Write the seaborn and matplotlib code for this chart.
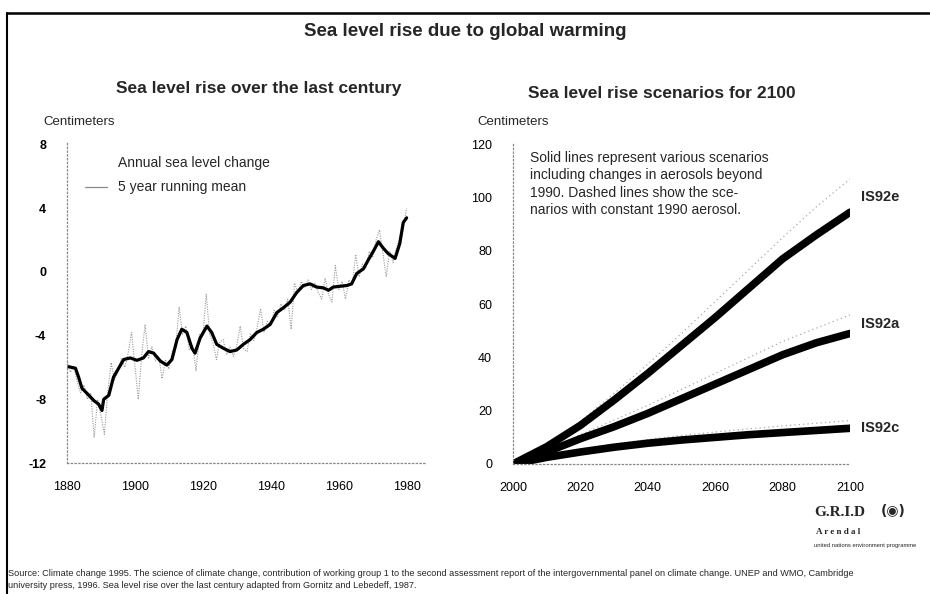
import numpy as np
import pandas as pd
import matplotlib
matplotlib.use("Agg")
import matplotlib.pyplot as plt
from matplotlib.lines import Line2D
import seaborn as sns

# --- left chart: sea level over the last century (cm) ---
annual_years = list(range(1880, 1981))
annual_cm = [-5.6, -6.3, -5.9, -6.9, -7.6, -7.1, -8.0, -7.6, -10.4, -8.0,
             -9.0, -10.2, -7.5, -5.7, -6.8, -6.3, -5.4, -6.0, -5.1, -3.8,
             -5.9, -8.0, -5.2, -3.3, -5.4, -4.7, -5.6, -5.3, -6.7, -5.5,
             -6.1, -5.0, -4.8, -2.2, -3.9, -3.4, -4.9, -4.6, -6.2, -3.9,
             -4.0, -1.4, -3.9, -4.5, -5.5, -4.4, -4.25, -5.2, -4.7, -5.3,
             -4.6, -3.4, -4.8, -5.0, -3.9, -4.3, -3.5, -2.3, -3.8, -3.1,
             -3.4, -2.4, -2.8, -2.0, -2.4, -1.7, -3.6, -0.7, -1.3, -0.6,
             -1.0, -0.5, -1.1, -0.7, -1.3, -1.7, -0.4, -1.4, -1.9, 0.4,
             -1.1, -0.6, -1.7, -0.5, -0.8, 1.1, -0.3, 0.5, 0.3, 1.3,
             0.9, 2.0, 2.65, 1.2, -0.3, 1.3, 0.6, 1.5, 2.2, 2.7,
             4.0]
mean_years = [1880.5, 1882.5, 1883.4, 1884.4, 1886, 1888, 1889.3, 1890.3, 1890.8,
              1892.3, 1893.7, 1895.2, 1896.7, 1898.6, 1900.6, 1902.5, 1904, 1905.5,
              1907.5, 1909.4, 1910.9, 1912.4, 1913.8, 1915.3, 1916.8, 1917.7, 1919.2,
              1921.2, 1922.6, 1924.1, 1926.1, 1928, 1930, 1931.9, 1933.9, 1935.9,
              1937.8, 1939.8, 1941.8, 1943.7, 1945.7, 1947.6, 1949.6, 1951.6, 1953.5,
              1955.5, 1957, 1958.4, 1960.4, 1962.4, 1963.8, 1965.3, 1967.3, 1968.7,
              1970.2, 1971.7, 1973.1, 1974.6, 1976.6, 1978, 1979, 1980]
mean_cm = [-5.95, -6.05, -6.6, -7.3, -7.65, -8.1, -8.3, -8.7, -8.0,
           -7.75, -6.6, -6.05, -5.5, -5.4, -5.55, -5.4, -5.0, -5.1,
           -5.6, -5.85, -5.5, -4.25, -3.6, -3.8, -4.8, -5.1, -4.15,
           -3.4, -3.8, -4.55, -4.8, -5.0, -4.9, -4.55, -4.25, -3.8,
           -3.6, -3.3, -2.55, -2.25, -1.9, -1.3, -0.85, -0.75, -0.95,
           -1.0, -1.15, -0.95, -0.9, -0.85, -0.75, -0.1, 0.2, 0.75,
           1.3, 1.9, 1.5, 1.15, 0.85, 1.8, 3.1, 3.4]
left_yticks = [-12, -8, -4, 0, 4, 8]
left_xticks = [1880, 1900, 1920, 1940, 1960, 1980]

# --- right chart: scenarios to 2100 (cm) ---
scen_years = [2000, 2010, 2020, 2030, 2040, 2050, 2060, 2070, 2080, 2090, 2100]
is92e = [0, 6.5, 14.5, 24, 34, 44.5, 55, 66, 77, 86, 94.5]
is92a = [0, 4.5, 9.5, 14, 19, 24.5, 30, 35.5, 41, 45.5, 49]
is92c = [0, 2.5, 4.5, 6.3, 7.8, 9.0, 10.0, 11.0, 11.8, 12.6, 13.4]
is92e_const = [0, 7, 16, 26.5, 37.5, 49, 61, 73, 85, 96.5, 107]
is92a_const = [0, 5, 11, 16.5, 22, 28, 34, 40, 46, 51, 56]
is92c_const = [0, 3, 5.5, 7.5, 9.2, 10.7, 12, 13.2, 14.3, 15.3, 16.3]
right_yticks = [0, 20, 40, 60, 80, 100, 120]
right_xticks = [2000, 2020, 2040, 2060, 2080, 2100]

sns.set_theme(style="white")
plt.rcParams['font.family'] = ['Liberation Sans', 'DejaVu Sans']
plt.rcParams['axes.unicode_minus'] = False

W, H = 930, 594
fig = plt.figure(figsize=(9.3, 5.94), dpi=100)


def px(x, y):
    return x / W, 1 - y / H


def style_axis(ax):
    for s in ['top', 'right']:
        ax.spines[s].set_visible(False)
    for s in ['left', 'bottom']:
        ax.spines[s].set_linestyle((0, (1, 2)))
        ax.spines[s].set_color('#888888')
        ax.spines[s].set_linewidth(0.9)
    ax.tick_params(axis='y', length=3, width=0.7, color='#888888', pad=12,
                   labelsize=9, labelcolor='black')
    ax.tick_params(axis='x', length=0, pad=13, labelsize=9, labelcolor='black')
    ax.grid(False)
    ax.set_xlabel("")
    ax.set_ylabel("")


# left axes
ax1 = fig.add_axes([67 / W, 1 - 463 / H, 360 / W, 320 / H])
sns.lineplot(x=annual_years, y=annual_cm, ax=ax1, color='#9a9a9a',
             linewidth=0.8, linestyle=(0, (1, 1.2)))
sns.lineplot(x=mean_years, y=mean_cm, ax=ax1, color='black', linewidth=2.3)
ax1.set_xlim(1880, 1986)
ax1.set_ylim(-12, 8.1)
ax1.set_yticks(left_yticks)
ax1.set_yticklabels([str(v) for v in left_yticks], fontweight='bold')
ax1.set_xticks(left_xticks)
style_axis(ax1)

# legend of the left chart
fig.text(*px(118, 163), "Annual sea level change", ha='left', va='center',
         fontsize=10)
fig.text(*px(118, 187), "5 year running mean", ha='left', va='center',
         fontsize=10)
fig.add_artist(Line2D([85 / W, 107 / W], [1 - 187 / H, 1 - 187 / H],
                      color='#8a8a8a', lw=0.9, transform=fig.transFigure))

# right axes
ax2 = fig.add_axes([513 / W, 1 - 464 / H, 337 / W, 321 / H])
for vals in [is92e_const, is92a_const, is92c_const]:
    sns.lineplot(x=scen_years, y=vals, ax=ax2, color='#aaaaaa',
                 linewidth=0.9, linestyle=(0, (1, 2.5)))
for vals in [is92e, is92a, is92c]:
    sns.lineplot(x=scen_years, y=vals, ax=ax2, color='black',
                 linewidth=5.5, solid_capstyle='round')
ax2.set_xlim(2000, 2100)
ax2.set_ylim(0, 120.5)
ax2.set_yticks(right_yticks)
ax2.set_xticks(right_xticks)
style_axis(ax2)
for name, vals, dy in [("IS92e", is92e, 11), ("IS92a", is92a, 7), ("IS92c", is92c, 0)]:
    ax2.annotate(name, (scen_years[-1], vals[-1]), xytext=(8, dy),
                 textcoords='offset points', fontsize=10.5, fontweight='bold',
                 va='center', ha='left', annotation_clip=False)
fig.text(*px(530, 151), "Solid lines represent various scenarios\n"
         "including changes in aerosols beyond\n"
         "1990. Dashed lines show the sce-\n"
         "narios with constant 1990 aerosol.",
         fontsize=10, va='top', ha='left', linespacing=1.3)

# titles and labels
fig.text(*px(465, 31), "Sea level rise due to global warming", ha='center',
         va='center', fontsize=13.5, fontweight='bold')
fig.text(*px(259, 88), "Sea level rise over the last century", ha='center',
         va='center', fontsize=12.5, fontweight='bold')
fig.text(*px(662, 93), "Sea level rise scenarios for 2100", ha='center',
         va='center', fontsize=12.5, fontweight='bold')
fig.text(*px(43, 122), "Centimeters", ha='left', va='center', fontsize=9.5)
fig.text(*px(477, 122), "Centimeters", ha='left', va='center', fontsize=9.5)

# GRID-Arendal logo text
fig.text(*px(840, 513), "G.R.I.D", ha='center', va='center', fontsize=11,
         fontweight='bold', family='Liberation Serif')
fig.text(*px(893, 511), "(\u25c9)", ha='center', va='center', fontsize=10,
         fontweight='bold', family='DejaVu Sans')
fig.text(*px(838, 532), "A r e n d a l", ha='center', va='center', fontsize=6.5,
         fontweight='bold', family='Liberation Serif')
fig.text(*px(865, 546), "united nations environment programme", ha='center',
         va='center', fontsize=4.2)

# source
fig.text(*px(8, 574), "Source: Climate change 1995. The science of climate change, "
         "contribution of working group 1 to the second assessment report of the "
         "intergovernmental panel on climate change. UNEP and WMO, Cambridge",
         ha='left', va='center', fontsize=6.6)
fig.text(*px(8, 585), "university press, 1996. Sea level rise over the last century "
         "adapted from Gornitz and Lebedeff, 1987.",
         ha='left', va='center', fontsize=6.6)

# frame of the scanned page
fig.add_artist(Line2D([7 / W, 930 / W], [1 - 13 / H, 1 - 13 / H], color='black',
                      lw=1.8, transform=fig.transFigure))
fig.add_artist(Line2D([7 / W, 7 / W], [1 - 13 / H, 0], color='black',
                      lw=1.5, transform=fig.transFigure))

fig.savefig("out.png", dpi=100)
